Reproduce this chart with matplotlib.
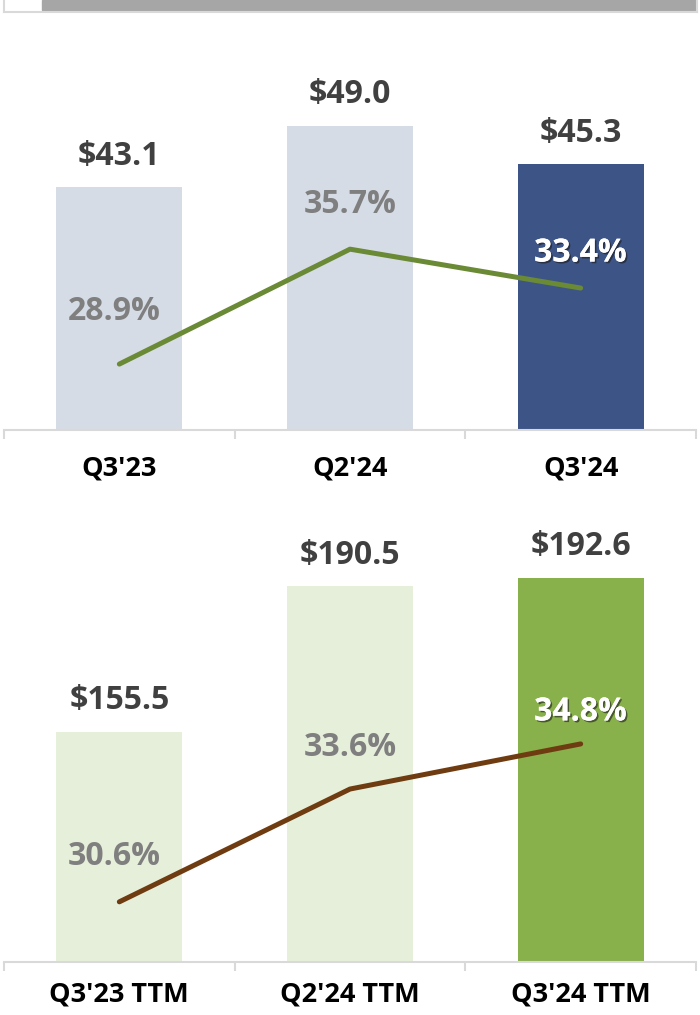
import matplotlib.pyplot as plt
import matplotlib.patheffects as pe
from matplotlib.patches import Rectangle
from matplotlib.lines import Line2D
import numpy as np

plt.rcParams["font.family"] = ["Open Sans", "DejaVu Sans"]
plt.rcParams["font.weight"] = "bold"

# quarterly data
q_labels = ["Q3'23", "Q2'24", "Q3'24"]
q_values = [43.1, 49.0, 45.3]
q_margin = [28.9, 35.7, 33.4]

# trailing twelve months
ttm_labels = ["Q3'23 TTM", "Q2'24 TTM", "Q3'24 TTM"]
ttm_values = [155.5, 190.5, 192.6]
ttm_margin = [30.6, 33.6, 34.8]

W, H = 700, 1015
PX = 72 / 100  # points per pixel at dpi 100

VAL_COLOR = "#404040"
PCT_COLOR = "#7f7f7f"
AXIS_COLOR = "#d9d9d9"

shadow = [pe.withSimplePatchShadow(offset=(1.2, -1.2), shadow_rgbFace="#1a1a1a", alpha=0.6), pe.Normal()]


def draw_panel(fig, rect, labels, values, margins, bar_colors, line_color,
               ylim, y2lim, pct_offsets, label_pad):
    ax = fig.add_axes(rect)
    x = np.arange(len(labels))
    ax.bar(x, values, width=0.546, color=bar_colors, zorder=2)
    ax.set_xlim(-0.5, len(labels) - 0.5)
    ax.set_ylim(*ylim)

    for s in ["top", "left", "right"]:
        ax.spines[s].set_visible(False)
    ax.spines["bottom"].set_color(AXIS_COLOR)
    ax.spines["bottom"].set_linewidth(1.5)
    ax.set_yticks([])
    ax.set_xticks(x)
    ax.set_xticklabels(labels, fontsize=19.5, fontweight="bold", color="black")
    ax.tick_params(axis="x", which="major", length=0, pad=label_pad * PX)
    ax.set_xticks(np.arange(len(labels) + 1) - 0.5, minor=True)
    ax.tick_params(axis="x", which="minor", length=9 * PX, width=1.5,
                   color=AXIS_COLOR, direction="out")

    for xi, v in zip(x, values):
        ax.annotate(f"${v:.1f}", (xi, v), xytext=(0, 31 * PX),
                    textcoords="offset points", ha="center", va="center",
                    fontsize=23, fontweight="bold", color=VAL_COLOR)

    ax2 = ax.twinx()
    ax2.set_ylim(*y2lim)
    ax2.axis("off")
    ax2.plot(x, margins, color=line_color, lw=3.6, solid_capstyle="round",
             solid_joinstyle="round", zorder=3)
    for i, (xi, m) in enumerate(zip(x, margins)):
        last = i == len(x) - 1
        t = ax2.annotate(f"{m:.1f}%", (xi, m), xytext=(-4 if i == 0 else 0, pct_offsets[i] * PX),
                         textcoords="offset points", ha="center", va="center",
                         fontsize=23, fontweight="bold",
                         color="white" if last else PCT_COLOR)
        if last:
            t.set_path_effects(shadow)
    return ax


fig = plt.figure(figsize=(W / 100, H / 100), dpi=100)

# top panel: axis at y=430, top at y=30
draw_panel(fig, [4 / W, (H - 430) / H, 692 / W, 400 / H],
           q_labels, q_values, q_margin,
           ["#d6dce5", "#d6dce5", "#3d5486"], "#6a8a35",
           (20, 20 + 400 / 10.5), (25, 25 + 400 / 16.9), [53, 45, 35], 26)

# bottom panel: axis at y=962, top at y=520
draw_panel(fig, [4 / W, (H - 962) / H, 692 / W, 442 / H],
           ttm_labels, ttm_values, ttm_margin,
           ["#e6efda", "#e6efda", "#88b04b"], "#6e3c10",
           (100, 100 + 442 / 4.15), (29, 29 + 442 / 37.6), [45, 42, 32], 19)

# cropped frame at the very top
fig.patches.append(Rectangle((42 / W, 1 - 10 / H), 653 / W, 10 / H,
                             transform=fig.transFigure, color="#a6a6a6", zorder=0))
for xs, ys in [([4, 4], [0, 12]), ([697, 697], [0, 12]), ([4, 697], [12, 12])]:
    fig.add_artist(Line2D([v / W for v in xs], [1 - v / H for v in ys],
                          transform=fig.transFigure, color=AXIS_COLOR, lw=1.5))

fig.savefig("out.png", dpi=100)
